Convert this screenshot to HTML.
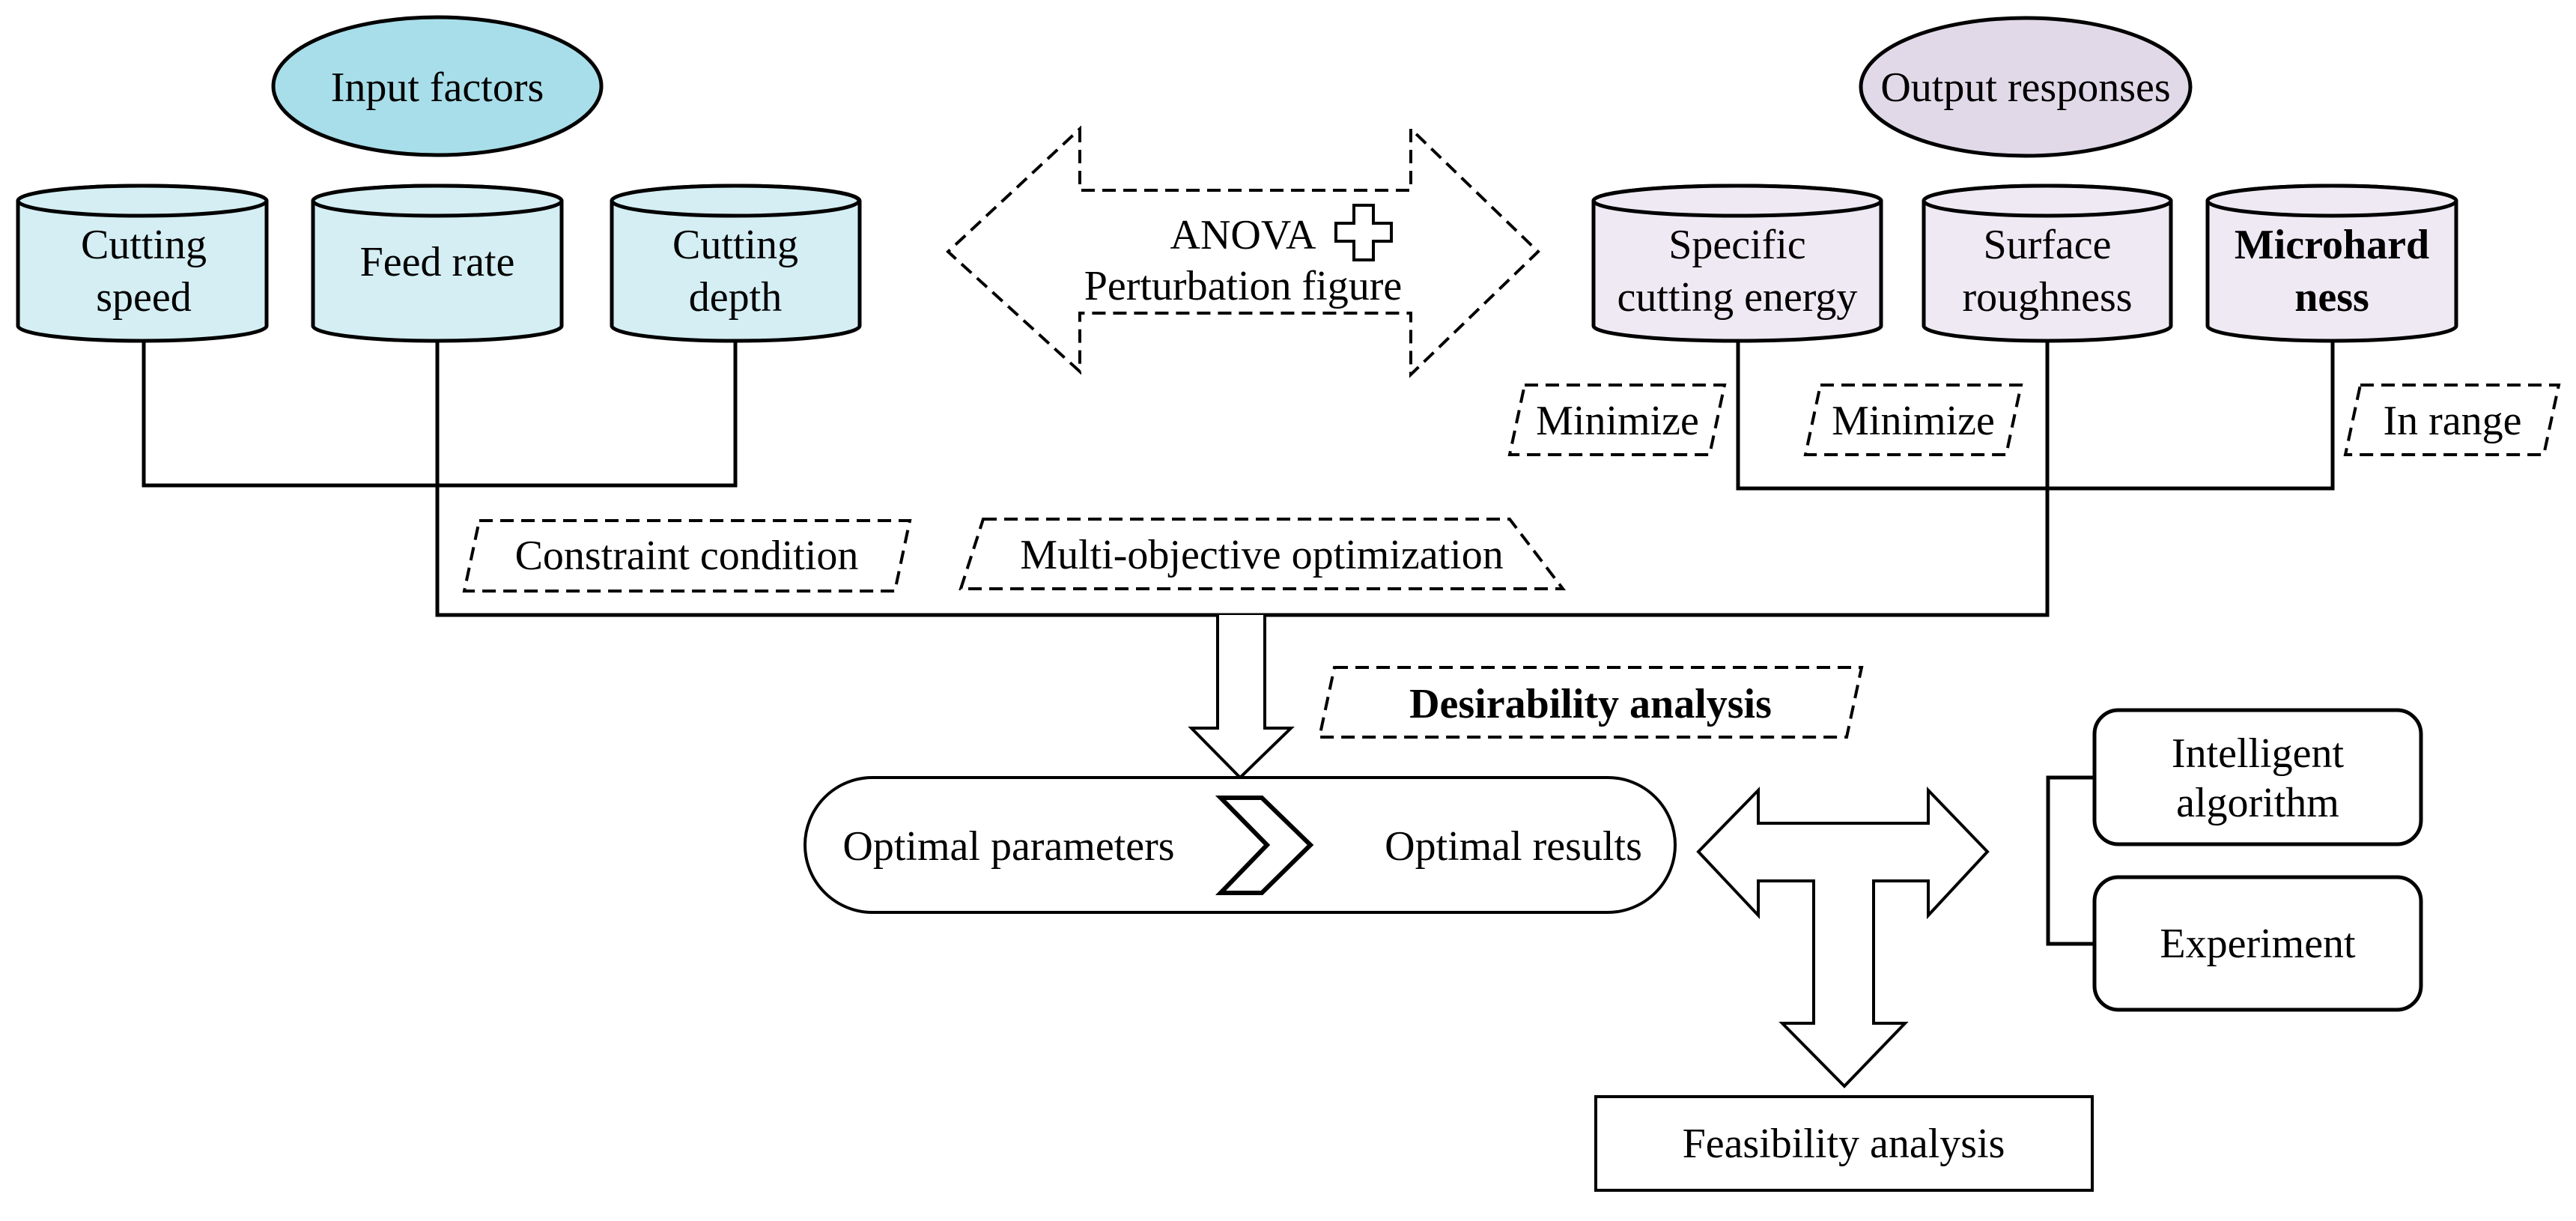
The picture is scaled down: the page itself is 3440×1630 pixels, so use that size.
<!DOCTYPE html>
<html><head><meta charset="utf-8"><style>
html,body{margin:0;padding:0;background:#fff}
svg{display:block}
text{font-family:"Liberation Serif","Times New Roman",serif;font-size:56px;fill:#000;text-anchor:middle}
</style></head><body>
<svg width="3440" height="1630" viewBox="0 0 3440 1630" xmlns="http://www.w3.org/2000/svg">
<g stroke="#000" stroke-width="5" fill="none">
<path d="M192 456V648H982V456M584 456V821H2734V456M2321 456V652H3115V456"/>
<ellipse cx="584" cy="115" rx="219" ry="92" fill="#a8dee9"/>
<ellipse cx="2705" cy="116" rx="220" ry="92" fill="#e1d9e8"/>
<g fill="#d4eef3">
<path d="M24 268V435A166 20 0 0 0 356 435V268A166 20 0 0 0 24 268Z"/><ellipse cx="190" cy="268" rx="166" ry="20"/>
<path d="M418 268V435A166 20 0 0 0 750 435V268A166 20 0 0 0 418 268Z"/><ellipse cx="584" cy="268" rx="166" ry="20"/>
<path d="M817 268V435A165 20 0 0 0 1148 435V268A165 20 0 0 0 817 268Z"/><ellipse cx="982" cy="268" rx="165" ry="20"/>
</g>
<g fill="#eee9f3">
<path d="M2128 268V435A192 20 0 0 0 2512 435V268A192 20 0 0 0 2128 268Z"/><ellipse cx="2320" cy="268" rx="192" ry="20"/>
<path d="M2569 268V435A165 20 0 0 0 2899 435V268A165 20 0 0 0 2569 268Z"/><ellipse cx="2734" cy="268" rx="165" ry="20"/>
<path d="M2948 268V435A166 20 0 0 0 3280 435V268A166 20 0 0 0 2948 268Z"/><ellipse cx="3114" cy="268" rx="166" ry="20"/>
</g>
</g>
<g stroke="#000" stroke-width="4" fill="none" stroke-dasharray="18 10">
<path d="M1442 172V254H1884V172L2054 336L1884 500V418H1442V496L1266 336Z"/>
<path d="M640 695H1215L1195 789H620Z"/>
<path d="M1313 693H2016L2087 786H1283Z"/>
<path d="M2036 514H2303L2283 607H2016Z"/>
<path d="M2431 514H2699L2679 607H2411Z"/>
<path d="M3152 514H3417L3397 607H3132Z"/>
<path d="M1782 891H2486L2466 984H1762Z"/>
</g>
<g stroke="#000" stroke-width="4" fill="#fff">
<path d="M1808 274H1834V298H1858V322H1834V347H1808V322H1784V298H1808Z"/>
<path d="M1626 821V972H1591L1656 1038L1724 972H1689V821"/>
<rect x="1075" y="1038" width="1162" height="180" rx="90"/>
<path d="M1630 1065H1685L1750 1128L1685 1192H1630L1692 1128Z" stroke-width="6"/>
<path d="M2268 1137L2348 1055V1099H2575V1055L2654 1137L2575 1222V1176H2502V1366H2544L2463 1450L2380 1366H2422V1176H2348V1222Z"/>
<rect x="2797" y="948" width="436" height="179" rx="32" stroke-width="5"/>
<rect x="2797" y="1171" width="436" height="177" rx="32" stroke-width="5"/>
<rect x="2131" y="1464" width="663" height="125"/>
<path d="M2797 1038H2735V1260H2797" fill="none" stroke-width="5"/>
</g>
<text x="584" y="135">Input factors</text>
<text x="2705" y="135">Output responses</text>
<text x="192" y="345">Cutting</text><text x="192" y="415">speed</text>
<text x="584" y="368">Feed rate</text>
<text x="982" y="345">Cutting</text><text x="982" y="415">depth</text>
<text x="2320" y="345">Specific</text><text x="2320" y="415">cutting energy</text>
<text x="2734" y="345">Surface</text><text x="2734" y="415">roughness</text>
<text x="3114" y="345" font-weight="bold">Microhard</text><text x="3114" y="415" font-weight="bold">ness</text>
<text x="1660" y="332">ANOVA</text>
<text x="1660" y="400">Perturbation figure</text>
<text x="2160" y="580">Minimize</text>
<text x="2555" y="580">Minimize</text>
<text x="3275" y="580">In range</text>
<text x="917" y="760">Constraint condition</text>
<text x="1685" y="759">Multi-objective optimization</text>
<text x="2124" y="958" font-weight="bold" font-size="62">Desirability analysis</text>
<text x="1347" y="1148">Optimal parameters</text>
<text x="2021" y="1148">Optimal results</text>
<text x="3015" y="1024">Intelligent</text><text x="3015" y="1090">algorithm</text>
<text x="3015" y="1278">Experiment</text>
<text x="2462" y="1545">Feasibility analysis</text>
</svg>
</body></html>
